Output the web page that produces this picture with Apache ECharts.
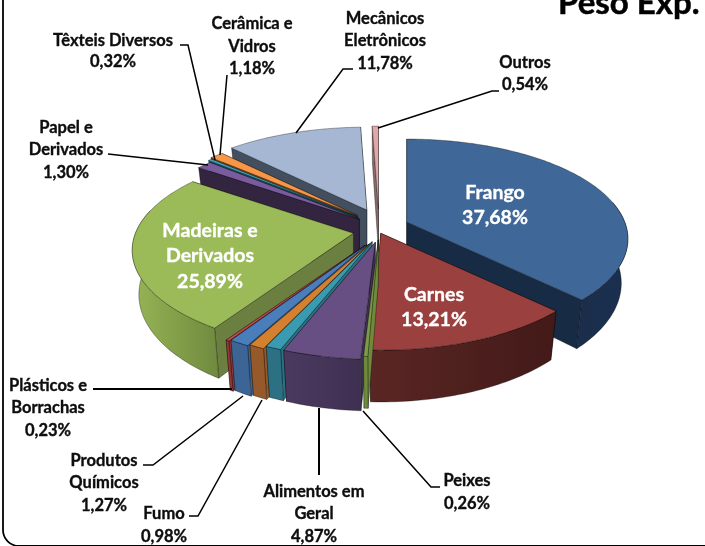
<!DOCTYPE html>
<html>
<head>
<meta charset="utf-8">
<style>
    html, body { margin: 0; padding: 0; background: #fff; }
    #chart { width: 705px; height: 546px; }
</style>
<script src="https://cdn.jsdelivr.net/npm/echarts@6/dist/echarts.min.js"></script>
</head>
<body>
<div id="chart"></div>
<script>
    // valores (% do peso exportado), sentido horario a partir do topo
    var categories = ["Frango", "Carnes", "Peixes", "Alimentos em\nGeral", "", "Fumo", "Produtos\nQuímicos",
        "Plásticos e\nBorrachas", "Madeiras e\nDerivados", "Papel e\nDerivados", "Têxteis Diversos",
        "Cerâmica e\nVidros", "Mecânicos\nEletrônicos", "Outros"];
    var values = [37.68, 13.21, 0.26, 4.87, 0.99, 0.98, 1.27, 0.23, 25.89, 1.30, 0.32, 1.18, 11.78, 0.54];
    var titleText = "Peso Exp.";

    var topColors = ["#3F6797", "#9A403E", "#7F9A48", "#684F83", "#3A9AAF", "#D5802F", "#4A7EBB",
        "#BE4B48", "#9BBB59", "#7A5C9E", "#3FA9C3", "#F79646", "#A6B7D4", "#E0A9A8"];
    var wallColors = ["#182B45", "#4A1C1A", "#6F8A3C", "#3F3052", "#2B7083", "#96592A", "#3C6494",
        "#8F3836", "#6B8040", "#33243F", "#1F5A6A", "#8A5020", "#434F5F", "#8A6A6A"];
    var rimColors = [["#1A3050", "#1A2E4B"], ["#421A18", "#5A2624"], ["#6F8A3C", "#6F8A3C"], ["#3F3052", "#4A3A60"],
        ["#2B7083", "#2B7083"], ["#96592A", "#96592A"], ["#3C6494", "#3C6494"], ["#8F3836", "#8F3836"],
        ["#6F8A3E", "#97B556"], ["#33243F", "#33243F"], ["#1F5A6A", "#1F5A6A"], ["#8A5020", "#8A5020"],
        ["#434F5F", "#434F5F"], ["#8A6A6A", "#8A6A6A"]];
    // afastamento de cada fatia (explosao), em px no plano da pizza
    var explode = [30, 5, 14, 18, 18, 22, 24, 26, 26, 25, 28, 30, 31, 30];
    var drawOrder = [13, 12, 11, 10, 9, 0, 8, 7, 6, 5, 4, 3, 1, 2];

    var pie = {cx: 379, cy: 230, R: 218, Ry: 97, depth: 43, persp: 0.17, taper: 0.03, explodeY: 0.7};
    var total = values.reduce(function (a, b) { return a + b; }, 0);

    var seriesData = drawOrder.map(function (i) {
        var before = 0;
        for (var k = 0; k < i; k++) before += values[k];
        return {value: [values[i], before, i]};
    });

    function slicePoint(apex, ang, r, z) {
        var u = Math.sin(ang) * r, v = -Math.cos(ang) * r;
        var s = 1 / (1 - v * pie.persp);
        return [
            apex[0] + u * pie.R * s * (1 - z * pie.taper),
            apex[1] + v * pie.Ry * s + z * pie.depth * s
        ];
    }

    function arcPoints(apex, a, b, z) {
        var pts = [], n = Math.max(2, Math.ceil((b - a) / 0.02));
        for (var j = 0; j <= n; j++) pts.push(slicePoint(apex, a + (b - a) * j / n, 1, z));
        return pts;
    }

    function renderSlice(params, api) {
        var val = api.value(0), before = api.value(1), idx = api.value(2);
        var a = before / total * Math.PI * 2, b = (before + val) / total * Math.PI * 2;
        var mid = (a + b) / 2;
        var apex = [
            pie.cx + Math.sin(mid) * explode[idx],
            pie.cy - Math.cos(mid) * explode[idx] * pie.explodeY
        ];
        var edge = {stroke: "rgba(0,0,0,0.55)", lineWidth: 0.6};
        var children = [];

        function wall(ang) {
            return {
                type: "polygon",
                shape: {points: [slicePoint(apex, ang, 0, 0), slicePoint(apex, ang, 1, 0), slicePoint(apex, ang, 1, 1), slicePoint(apex, ang, 0, 1)]},
                style: {fill: wallColors[idx], stroke: edge.stroke, lineWidth: edge.lineWidth}
            };
        }

        // parede de tras primeiro
        var walls = [a, b].sort(function (p, q) { return Math.cos(q) - Math.cos(p); });
        children.push(wall(walls[0]), wall(walls[1]));

        // parede externa, so a parte voltada para a frente
        var from = Math.max(a, 78 * Math.PI / 180), to = Math.min(b, 284 * Math.PI / 180);
        if (to > from) {
            var rim = arcPoints(apex, from, to, 0).concat(arcPoints(apex, from, to, 1).reverse());
            children.push({
                type: "polygon",
                shape: {points: rim},
                style: {
                    fill: new echarts.graphic.LinearGradient(0, 0, 1, 0, [
                        {offset: 0, color: rimColors[idx][1]},
                        {offset: 1, color: rimColors[idx][0]}
                    ]),
                    stroke: edge.stroke, lineWidth: edge.lineWidth
                }
            });
        }

        // face de cima
        children.push({
            type: "polygon",
            shape: {points: [slicePoint(apex, a, 0, 0)].concat(arcPoints(apex, a, b, 0))},
            style: {fill: topColors[idx], stroke: edge.stroke, lineWidth: edge.lineWidth}
        });

        return {type: "group", children: children};
    }

    function pct(v) {
        return v.toFixed(2).replace(".", ",") + "%";
    }

    var labelFont = "bold 16.5px Lato, 'Open Sans', sans-serif";
    var insideFont = "bold 19.5px Lato, 'Open Sans', sans-serif";

    function labelLines(idx, x, ys, font, color) {
        var lines = (categories[idx] + "\n" + pct(values[idx])).split("\n");
        return lines.map(function (t, k) {
            return {
                type: "text",
                x: x[k] === undefined ? x[0] : x[k],
                y: ys[k],
                z: 50,
                style: {
                    text: t, font: font, fill: color, align: "center", verticalAlign: "middle",
                    stroke: color, lineWidth: 0.35
                }
            };
        });
    }

    function leader(points, width) {
        return {
            type: "polyline",
            z: 40,
            shape: {points: points},
            style: {stroke: "#000", lineWidth: width || 1.5, fill: null}
        };
    }

    var black = "#0d0d0d";
    var graphics = [
        {
            type: "rect",
            z: 1,
            shape: {x: 3, y: -30, width: 900, height: 576, r: 16},
            style: {fill: "#fff", stroke: "#000", lineWidth: 1.8},
            silent: true
        },
        {
            type: "text", x: 558, y: 20, z: 50,
            style: {
                text: titleText, font: "bold 33px Lato, 'Open Sans', sans-serif", fill: "#000",
                align: "left", verticalAlign: "bottom", stroke: "#000", lineWidth: 0.5
            }
        },
        leader([[180, 45], [188, 45], [215, 160]]),
        leader([[227, 75], [220, 155]]),
        leader([[353, 69], [343, 69], [296, 133]]),
        leader([[499, 91], [492, 91], [378, 128]]),
        leader([[108, 154], [208, 165]]),
        leader([[93, 389], [232, 389]], 2),
        leader([[143, 465], [153, 465], [243, 396]]),
        leader([[189, 516], [198, 516], [262, 400]]),
        leader([[319, 475], [319, 408]], 2),
        leader([[440, 487], [431, 487], [363, 411]])
    ].concat(
        labelLines(0, [495], [193, 218], insideFont, "#fff"),
        labelLines(1, [434], [295, 320], insideFont, "#fff"),
        labelLines(8, [210], [231, 256, 282], insideFont, "#fff"),
        labelLines(2, [467], [481, 504], labelFont, black),
        labelLines(3, [314], [492, 514, 537], labelFont, black),
        labelLines(5, [164], [514, 537], labelFont, black),
        labelLines(6, [104], [461, 483, 506], labelFont, black),
        labelLines(7, [48], [386, 408, 431], labelFont, black),
        labelLines(9, [66], [128, 150, 173], labelFont, black),
        labelLines(10, [113], [41, 62], labelFont, black),
        labelLines(11, [252], [24, 47, 69], labelFont, black),
        labelLines(12, [385], [19, 41, 64], labelFont, black),
        labelLines(13, [525], [63, 85], labelFont, black)
    );

    var chart = echarts.init(document.getElementById("chart"), null, {renderer: "canvas"});
    chart.setOption({
        animation: false,
        backgroundColor: "#fff",
        graphic: {elements: graphics},
        series: [{
            type: "custom",
            coordinateSystem: "none",
            silent: true,
            z: 5,
            encode: {value: 0},
            renderItem: renderSlice,
            data: seriesData
        }]
    });
</script>
</body>
</html>
